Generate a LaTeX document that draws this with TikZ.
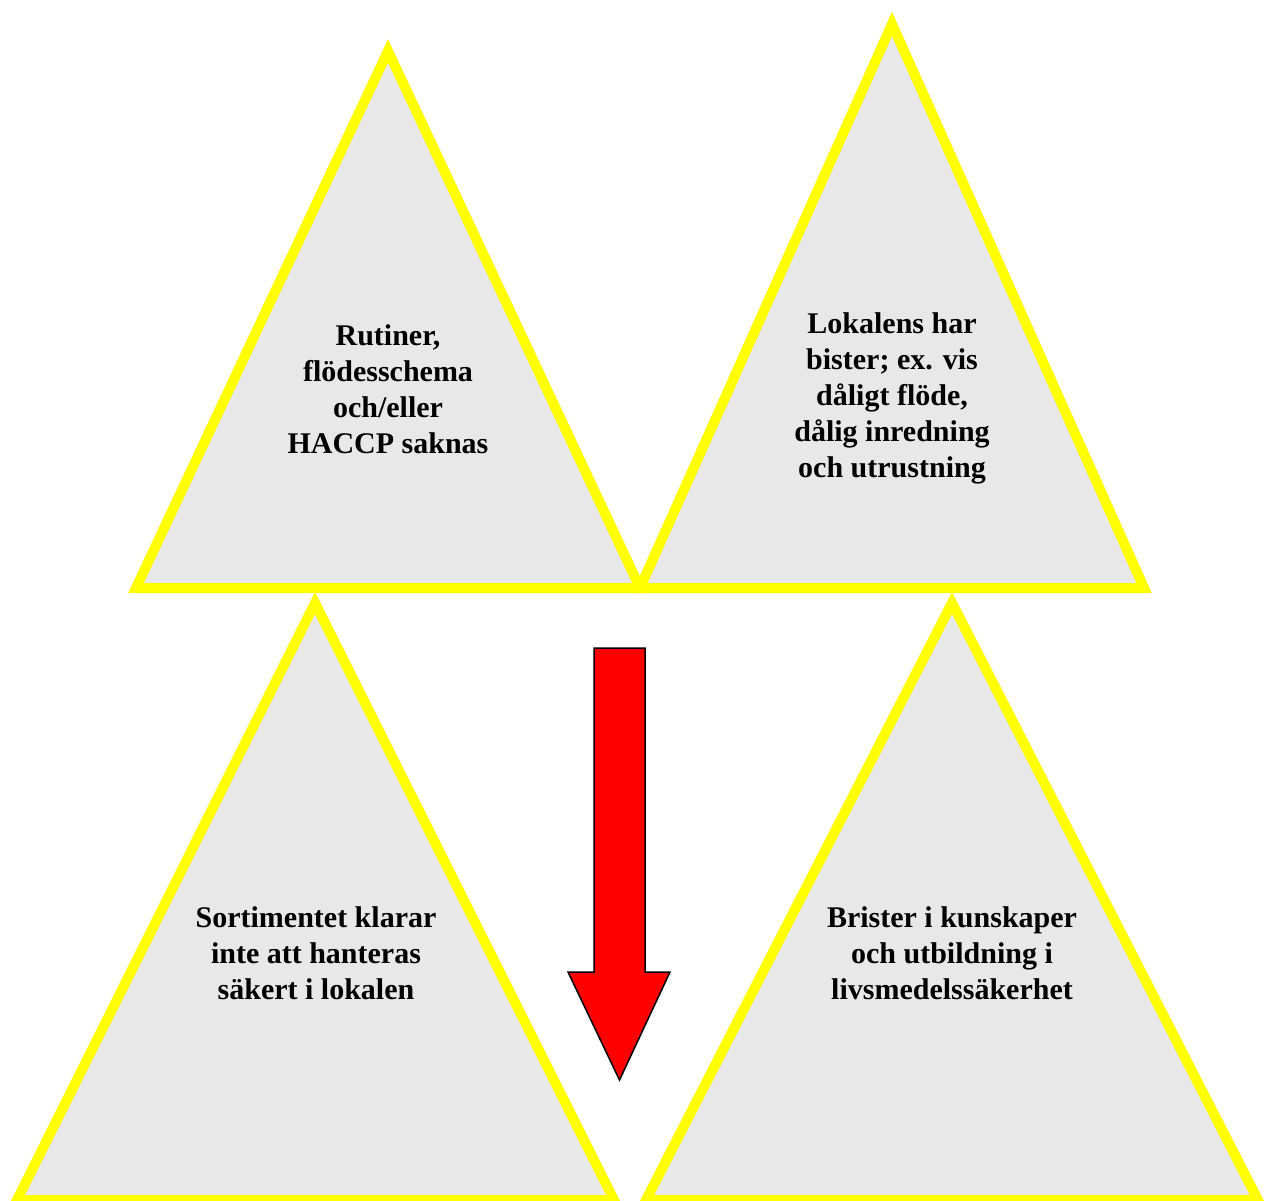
\documentclass[tikz,border=0pt]{standalone}
\usepackage{fontspec}
\setmainfont{Liberation Serif}
\definecolor{triyellow}{HTML}{FFFF00}
\definecolor{trigray}{HTML}{E8E8E8}
\definecolor{arrowred}{HTML}{FF0000}
\begin{document}
\begin{tikzpicture}[x=1pt,y=-1pt,
  tri/.style={draw=triyellow, fill=trigray, line width=10pt, line join=miter},
  lbl/.style={align=center, font=\fontsize{30}{36}\selectfont\bfseries, inner sep=0pt},
  bigarrow/.style={draw=black, fill=arrowred, line width=1.5pt, line join=miter}]
\useasboundingbox (0,0) rectangle (1265,1200);
% bottom triangles
\draw[tri] (315,603) -- (614,1200) -- (17,1200) -- cycle;
\draw[tri] (952,603) -- (1258,1200) -- (646,1200) -- cycle;
% top triangles
\draw[tri] (388,51) -- (640,588) -- (136,588) -- cycle;
\draw[tri] (892,24) -- (1144,588) -- (640,588) -- cycle;
% arrow
\draw[bigarrow] (594,648) -- (645,648) -- (645,972) -- (670,972) -- (619.5,1080) -- (568,972) -- (594,972) -- cycle;
% labels
\node[lbl] (t1) at (388,389) {Rutiner,\\flödesschema\\och/eller\\HACCP saknas};
\node[lbl] (t2) at (892,398) {Lokalens har\\bister; ex. vis\\dåligt flöde,\\dålig inredning\\och utrustning};
\node[lbl] (t3) at (316,953) {Sortimentet klarar\\inte att hanteras\\säkert i lokalen};
\node[lbl] (t4) at (952,953) {Brister i kunskaper\\och utbildning i\\livsmedelssäkerhet};
\end{tikzpicture}
\end{document}
